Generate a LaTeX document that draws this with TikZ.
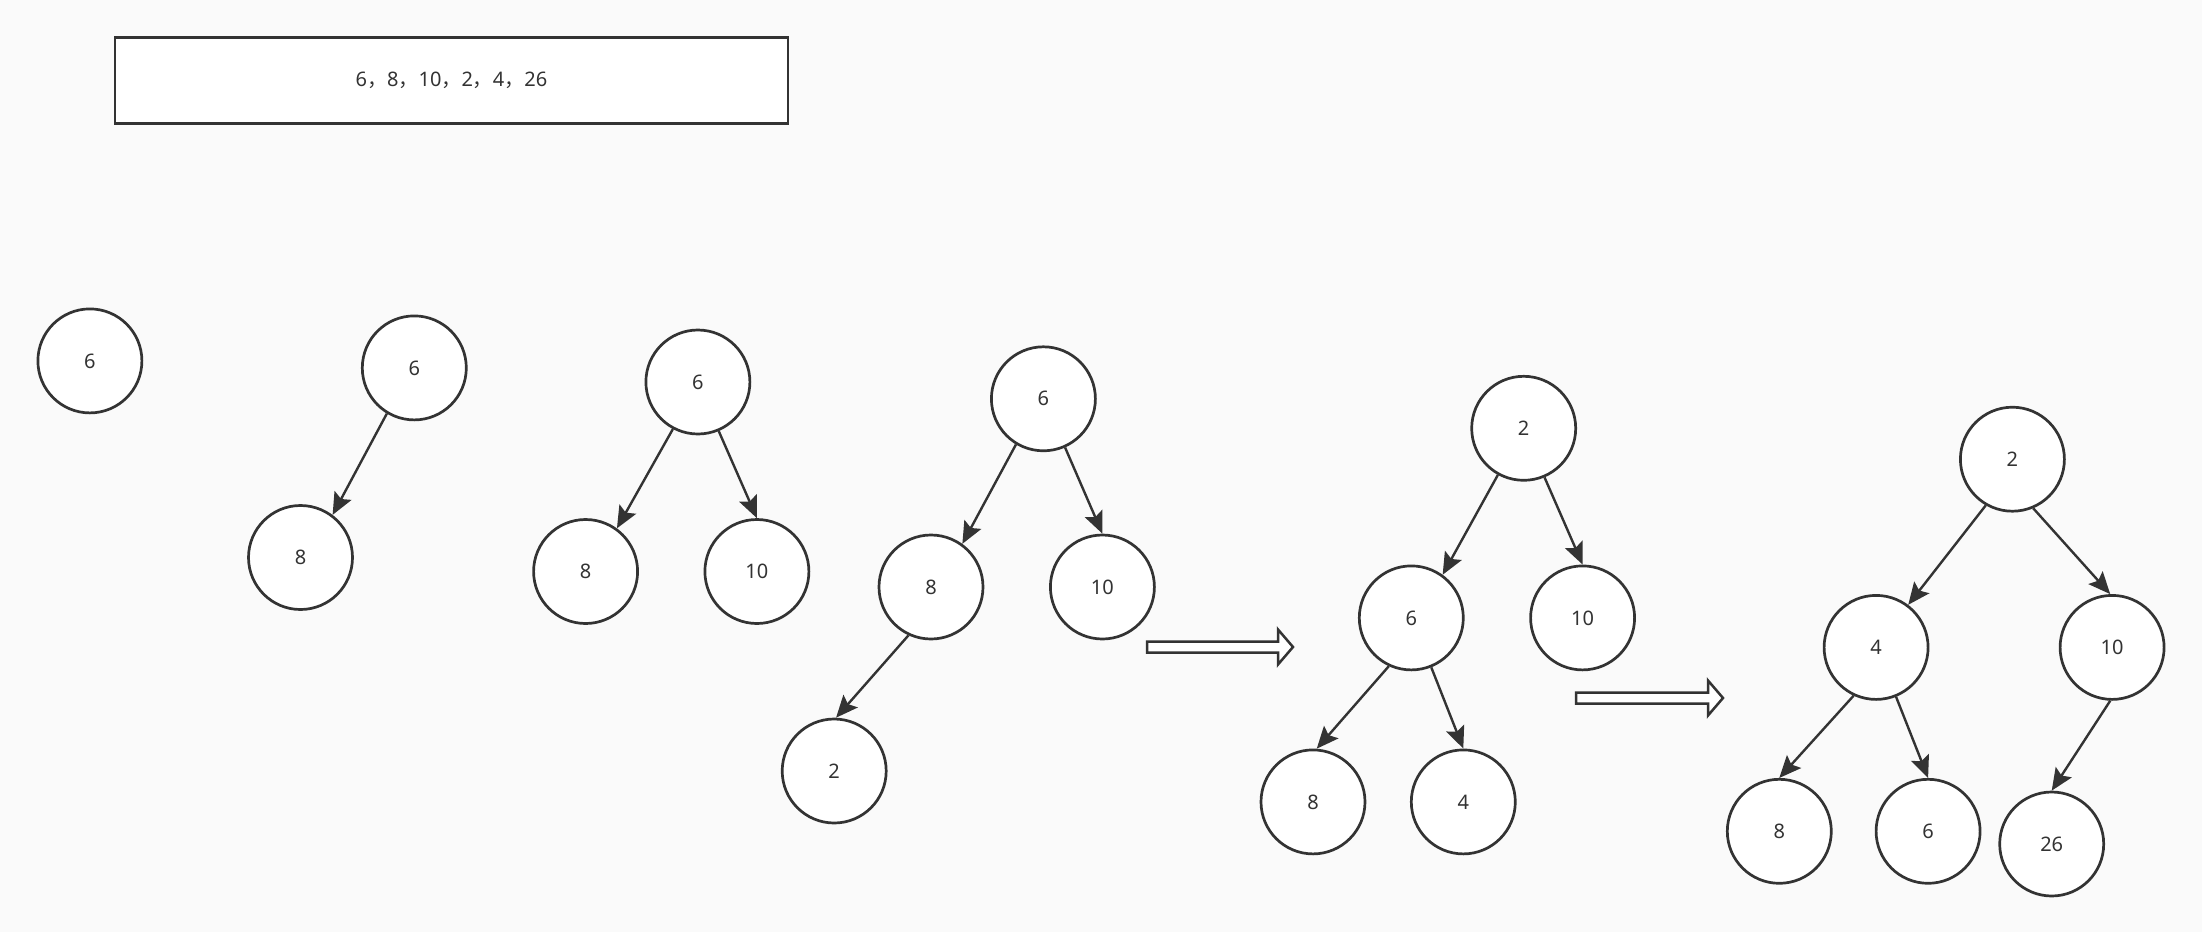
\documentclass[tikz,border=0pt]{standalone}
\usepackage{fontspec}
\newfontfamily\cjk{Noto Sans CJK SC}
\newfontfamily\lab{Noto Sans}
\usetikzlibrary{arrows.meta}
\definecolor{ink}{HTML}{333333}
\definecolor{bg}{HTML}{FAFAFA}
\newcommand{\cc}{{\cjk ，}}
\tikzset{
  tn/.style={circle, draw=ink, fill=white, line width=1.35pt, minimum size=52pt, inner sep=0pt, text=ink, font=\lab\fontsize{10}{12}\selectfont},
  ed/.style={draw=ink, line width=1.2pt, -{Stealth[length=11pt,width=9.5pt,inset=2pt]}},
  hollow/.style={draw=ink, fill=white, line width=1.25pt},
  topbox/.style={draw=ink, fill=white, line width=1.35pt, minimum width=336.5pt, minimum height=43pt, inner sep=0pt, text=ink, font=\lab\fontsize{10}{12}\selectfont}
}
\begin{document}
\begin{tikzpicture}[x=0.5pt,y=-0.5pt]
\fill[bg] (0,0) rectangle (2202,932);
\useasboundingbox (0,0) rectangle (2202,932);
\node[topbox] (seq) at (451.5,80.7) {\raisebox{-1.5pt}{6\cc 8\cc 10\cc 2\cc 4\cc 26}};
% tree 1
\node[tn] (a1) at (89.9,360.9) {6};
% tree 2
\node[tn] (a2) at (414.3,367.9) {6};
\node[tn] (b2) at (300.5,557.5) {8};
\draw[ed] (a2.-121) -- (b2.53);
% tree 3
\node[tn] (a3) at (697.9,382.0) {6};
\node[tn] (b3) at (585.6,571.5) {8};
\node[tn] (c3) at (756.9,571.5) {10};
\draw[ed] (a3.-118) -- (b3.54);
\draw[ed] (a3.-67) -- (c3.90);
% tree 4
\node[tn] (a4) at (1043.4,398.8) {6};
\node[tn] (b4) at (931.0,587.0) {8};
\node[tn] (c4) at (1102.4,587.0) {10};
\node[tn] (d4) at (834.2,771.0) {2};
\draw[ed] (a4.-121) -- (b4.54);
\draw[ed] (a4.-66) -- (c4.90);
\draw[ed] (b4.-115) -- (d4.88);
% arrow 1
\coordinate (p1) at (1147,647);
\draw[hollow] (p1) ++(0,-5.5) -- ++(131,0) -- ++(0,-12) -- ++(15,17.5) -- ++(-15,17.5) -- ++(0,-12) -- ++(-131,0) -- cycle;
% tree 5
\node[tn] (a5) at (1523.7,428.3) {2};
\node[tn] (b5) at (1411.3,617.9) {6};
\node[tn] (c5) at (1582.6,617.9) {10};
\node[tn] (d5) at (1313.0,801.9) {8};
\node[tn] (e5) at (1463.3,801.9) {4};
\draw[ed] (a5.-119) -- (b5.54);
\draw[ed] (a5.-67) -- (c5.90);
\draw[ed] (b5.-115) -- (d5.86);
\draw[ed] (b5.-68) -- (e5.90);
% arrow 2
\coordinate (p2) at (1576,698);
\draw[hollow] (p2) ++(0,-5.5) -- ++(132,0) -- ++(0,-12) -- ++(15,17.5) -- ++(-15,17.5) -- ++(0,-12) -- ++(-132,0) -- cycle;
% tree 6
\node[tn] (a6) at (2012.4,459.2) {2};
\node[tn] (b6) at (1876.1,647.4) {4};
\node[tn] (c6) at (2112.1,647.4) {10};
\node[tn] (d6) at (1779.3,831.3) {8};
\node[tn] (e6) at (1928.1,831.3) {6};
\node[tn] (f6) at (2051.7,844.0) {26};
\draw[ed] (a6.-120) -- (b6.53);
\draw[ed] (a6.-67) -- (c6.92);
\draw[ed] (b6.-115) -- (d6.90);
\draw[ed] (b6.-68) -- (e6.90);
\draw[ed] (c6.-92) -- (f6.90);
\end{tikzpicture}
\end{document}
